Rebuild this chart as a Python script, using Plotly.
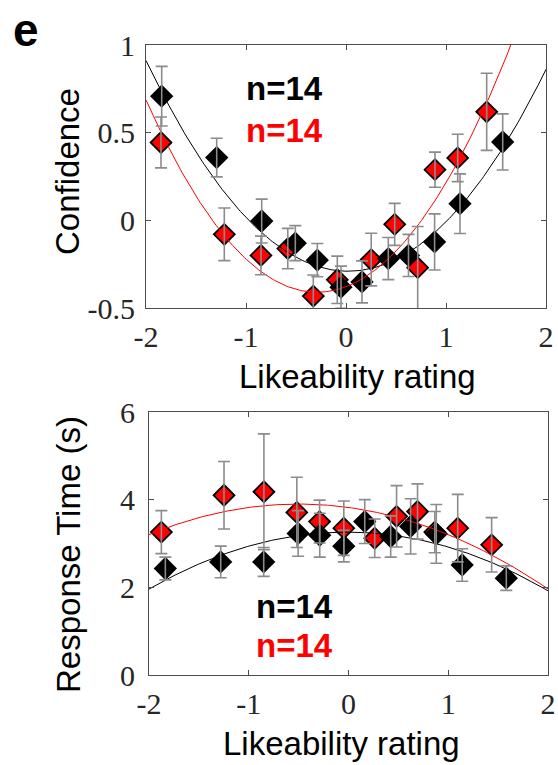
import numpy as np
import plotly.graph_objects as go

# ---------------- data ----------------
# Confidence panel
conf_black_x = [-1.843, -1.293, -0.843, -0.507, -0.287, -0.05, 0.16, 0.423, 0.625, 0.886, 1.14, 1.567]
conf_black_y = [0.708, 0.358, -0.004, -0.13, -0.227, -0.381, -0.351, -0.218, -0.2, -0.123, 0.095, 0.447]
conf_black_e = [0.17, 0.11, 0.125, 0.10, 0.095, 0.12, 0.12, 0.12, 0.12, 0.16, 0.17, 0.16]
conf_red_x = [-1.85, -1.217, -0.85, -0.582, -0.327, -0.087, 0.252, 0.487, 0.717, 0.89, 1.117, 1.407]
conf_red_y = [0.444, -0.08, -0.2, -0.161, -0.432, -0.339, -0.224, -0.023, -0.27, 0.289, 0.356, 0.619]
conf_red_e = [0.145, 0.15, 0.11, 0.115, 0.12, 0.135, 0.15, 0.12, 0.235, 0.10, 0.135, 0.22]
# quadratic fit coefficients [a, b, c] (a*x^2 + b*x + c)
conf_black_fit = [0.294, -0.0125, -0.29]
conf_red_fit = [0.375, 0.2175, -0.3785]

# Response time panel
rt_black_x = [-1.836, -1.281, -0.85, -0.505, -0.288, -0.047, 0.163, 0.423, 0.623, 0.88, 1.14, 1.582]
rt_black_y = [2.43, 2.58, 2.58, 3.23, 3.19, 2.94, 3.50, 3.16, 3.39, 3.22, 2.51, 2.21]
rt_black_e = [0.26, 0.36, 0.33, 0.52, 0.50, 0.36, 0.50, 0.47, 0.63, 0.67, 0.37, 0.28]
rt_red_x = [-1.876, -1.248, -0.848, -0.518, -0.29, -0.047, 0.263, 0.482, 0.692, 0.865, 1.095, 1.435]
rt_red_y = [3.26, 4.10, 4.18, 3.71, 3.50, 3.35, 3.12, 3.62, 3.73, 3.26, 3.35, 2.97]
rt_red_e = [0.49, 0.77, 1.32, 0.80, 0.49, 0.62, 0.44, 0.70, 0.63, 0.47, 0.77, 0.62]
rt_black_fit = [-0.33, -0.01, 3.26]
rt_red_fit = [-0.31, -0.31, 3.8225]

n_label = "n=14"
x_ticks = [-2, -1, 0, 1, 2]
x_ticklabels = ["-2", "-1", "0", "1", "2"]
conf_ticks = [-0.5, 0, 0.5, 1]
conf_ticklabels = ["-0.5", "0", "0.5", "1"]
rt_ticks = [0, 2, 4, 6]
rt_ticklabels = ["0", "2", "4", "6"]

BLACK = "#000000"
RED = "#ff0000"
ERR = "#8c8c8c"

fig = go.Figure()


def add_panel(xa, ya, bx, by, be, bfit, rx, ry, re, rfit):
    # markers, interleaved in x order (later x drawn on top)
    xs = list(bx) + list(rx)
    ys = list(by) + list(ry)
    cs = [BLACK] * len(bx) + [RED] * len(rx)
    order = np.argsort(xs)
    fig.add_trace(go.Scatter(
        x=[xs[i] for i in order], y=[ys[i] for i in order], mode="markers",
        marker=dict(symbol="diamond", size=16, color=[cs[i] for i in order],
                    line=dict(color="black", width=1.8)),
        xaxis=xa, yaxis=ya, showlegend=False, hoverinfo="skip"))
    # quadratic fits
    xf = np.linspace(-2, 2, 200)
    for p, col in ((bfit, BLACK), (rfit, RED)):
        fig.add_trace(go.Scatter(
            x=xf, y=np.polyval(p, xf), mode="lines",
            line=dict(color=col, width=1), xaxis=xa, yaxis=ya,
            showlegend=False, hoverinfo="skip", cliponaxis=True))
    # error bars on top
    for X, Y, E in ((bx, by, be), (rx, ry, re)):
        fig.add_trace(go.Scatter(
            x=X, y=Y, mode="markers",
            marker=dict(size=1, color="rgba(0,0,0,0)"),
            error_y=dict(type="data", array=E, color=ERR, thickness=1.6, width=6),
            xaxis=xa, yaxis=ya, showlegend=False, hoverinfo="skip"))


add_panel("x", "y", conf_black_x, conf_black_y, conf_black_e, conf_black_fit,
          conf_red_x, conf_red_y, conf_red_e, conf_red_fit)
add_panel("x2", "y2", rt_black_x, rt_black_y, rt_black_e, rt_black_fit,
          rt_red_x, rt_red_y, rt_red_e, rt_red_fit)

W, H = 558, 765
tickfont = dict(family="Liberation Serif", size=30, color="#262626")
axcommon = dict(showline=True, linecolor="#4d4d4d", linewidth=1, mirror="allticks",
                ticks="inside", ticklen=5, tickcolor="#4d4d4d", showgrid=False,
                zeroline=False, tickfont=tickfont, automargin=False)

fig.update_layout(
    width=W, height=H, margin=dict(l=0, r=0, t=0, b=0, autoexpand=False),
    paper_bgcolor="white", plot_bgcolor="white",
    xaxis=dict(domain=[146 / W, 546 / W], range=[-2, 2], tickvals=x_ticks,
               ticktext=x_ticklabels, anchor="y", ticklabelstandoff=2, **axcommon),
    yaxis=dict(domain=[1 - 308 / H, 1 - 45 / H], range=[-0.5, 1], tickvals=conf_ticks,
               ticktext=conf_ticklabels, anchor="x", ticklabelstandoff=4, **axcommon),
    xaxis2=dict(domain=[149 / W, 548 / W], range=[-2, 2], tickvals=x_ticks,
                ticktext=x_ticklabels, anchor="y2", ticklabelstandoff=2, **axcommon),
    yaxis2=dict(domain=[1 - 675 / H, 1 - 412 / H], range=[0, 6], tickvals=rt_ticks,
                ticktext=rt_ticklabels, anchor="x2", ticklabelstandoff=7, **axcommon),
)

sans = "Liberation Sans"


def ann(text, px, py, size, color="black", bold=False, angle=0):
    fig.add_annotation(
        text=f"<b>{text}</b>" if bold else text, x=px / W, y=1 - py / H,
        xref="paper", yref="paper", xanchor="center", yanchor="middle",
        showarrow=False, textangle=angle,
        font=dict(family=sans, size=size, color=color))


ann("e", 26, 30, 46, bold=True)
ann("Confidence", 68, 172, 33, angle=-90)
ann("Likeability rating", 357, 376, 33)
ann("Response Time (s)", 68, 555, 33, angle=-90)
ann("Likeability rating", 341, 743, 33)
ann(n_label, 284, 88, 33, BLACK, bold=True)
ann(n_label, 284, 130, 33, RED, bold=True)
ann(n_label, 294, 606, 33, BLACK, bold=True)
ann(n_label, 294, 645, 33, RED, bold=True)

fig.write_html("out.html", config={"displayModeBar": False},
               post_script="document.body.style.margin='0';document.body.style.overflow='hidden';")
